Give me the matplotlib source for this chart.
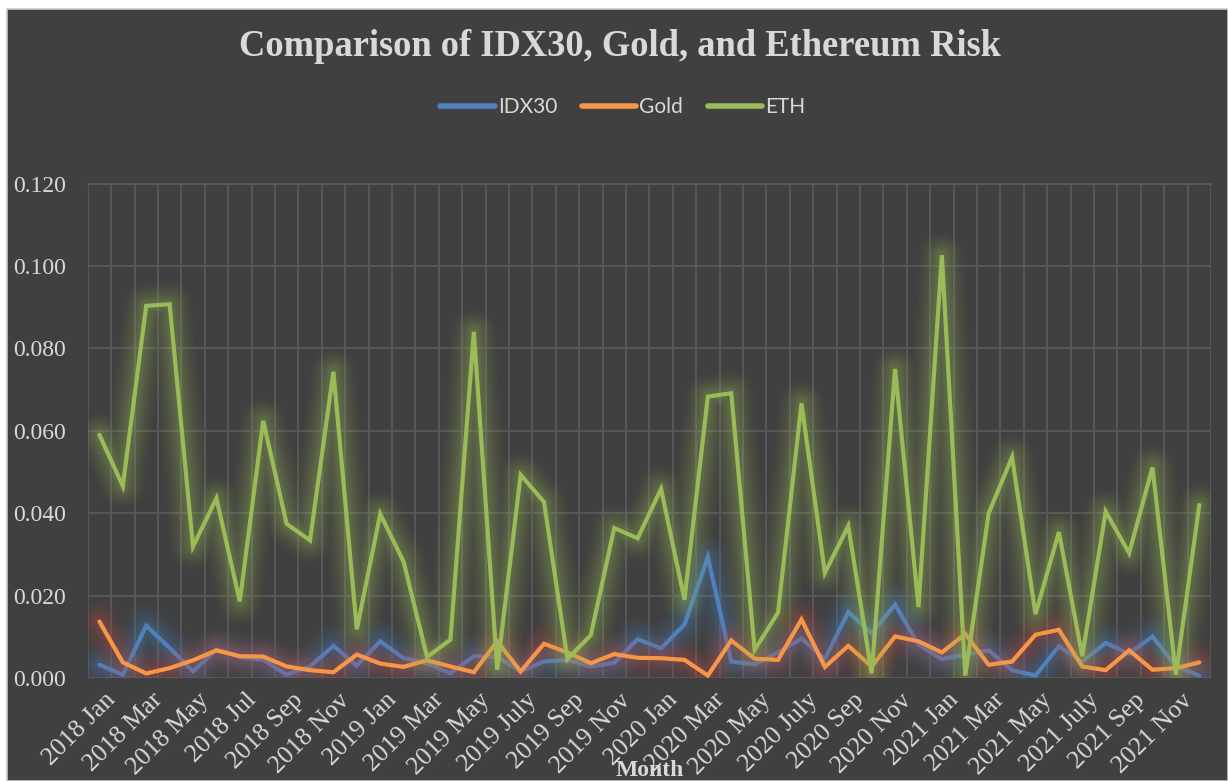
import matplotlib
matplotlib.use("Agg")
import matplotlib.pyplot as plt
import matplotlib.patheffects as pe
from matplotlib.patches import Rectangle
from matplotlib.transforms import ScaledTranslation
import numpy as np

years = [2018, 2019, 2020, 2021]
month_names_2018 = ["Jan", "Feb", "Mar", "Apr", "May", "Jun", "Jul", "Aug", "Sep", "Oct", "Nov", "Dec"]
month_names_other = ["Jan", "Feb", "Mar", "Apr", "May", "Jun", "July", "Aug", "Sep", "Oct", "Nov", "Dec"]
months = [f"{y} {m}" for y in years for m in (month_names_2018 if y == 2018 else month_names_other)]

idx30 = [0.0032, 0.0008, 0.0127, 0.0073, 0.0016, 0.0069, 0.0051, 0.0044, 0.0008, 0.0028,
         0.0078, 0.0030, 0.0089, 0.0048, 0.0036, 0.0011, 0.0053, 0.0051, 0.0016, 0.0040,
         0.0044, 0.0028, 0.0037, 0.0094, 0.0072, 0.0130, 0.0293, 0.0040, 0.0033, 0.0062,
         0.0096, 0.0046, 0.0160, 0.0109, 0.0178, 0.0081, 0.0046, 0.0057, 0.0067, 0.0019,
         0.0006, 0.0077, 0.0040, 0.0085, 0.0059, 0.0101, 0.0028, 0.0006]
gold = [0.0137, 0.0038, 0.0011, 0.0024, 0.0043, 0.0067, 0.0053, 0.0052, 0.0028, 0.0019,
        0.0014, 0.0057, 0.0035, 0.0027, 0.0043, 0.0028, 0.0014, 0.0089, 0.0016, 0.0083,
        0.0062, 0.0036, 0.0058, 0.0049, 0.0048, 0.0044, 0.0006, 0.0091, 0.0047, 0.0044,
        0.0142, 0.0027, 0.0078, 0.0028, 0.0101, 0.0089, 0.0062, 0.0107, 0.0032, 0.0040,
        0.0105, 0.0117, 0.0028, 0.0019, 0.0067, 0.0020, 0.0024, 0.0038]
eth = [0.0590, 0.0466, 0.0903, 0.0907, 0.0319, 0.0436, 0.0186, 0.0624, 0.0374, 0.0334,
       0.0743, 0.0118, 0.0398, 0.0282, 0.0051, 0.0093, 0.0840, 0.0020, 0.0493, 0.0427,
       0.0046, 0.0104, 0.0364, 0.0339, 0.0459, 0.0190, 0.0683, 0.0691, 0.0068, 0.0159,
       0.0667, 0.0255, 0.0369, 0.0011, 0.0750, 0.0172, 0.1026, 0.0006, 0.0400, 0.0536,
       0.0155, 0.0354, 0.0053, 0.0404, 0.0303, 0.0511, 0.0008, 0.0420]

series_names = ["IDX30", "Gold", "ETH"]
series_values = [idx30, gold, eth]
line_colors = ["#4F81BD", "#F79646", "#9BBB59"]
glow_colors = ["#4F81BD", "#C0504D", "#9BBB59"]

BG = "#404040"
TXT = "#D9D9D9"
GRID = "#595959"
W, H = 1228, 781

fig = plt.figure(figsize=(W / 100, H / 100), dpi=100, facecolor="white")
bgrect = Rectangle((7 / W, 0), 1 - 7 / W, 1 - 9 / H, transform=fig.transFigure,
                   facecolor=BG, edgecolor="#C8C8C8", linewidth=1.2, zorder=-10)
fig.add_artist(bgrect)

ax = fig.add_axes([87.7 / W, 1 - 678 / H, (1211 - 87.7) / W, (678 - 183.5) / H])
ax.set_zorder(1)
ax.set_facecolor(BG)
x = np.arange(len(months))

glow_layers = ((32, 0.035), (28, 0.04), (24, 0.045), (20, 0.055), (16, 0.065), (12, 0.08), (8, 0.10))
for name, vals, lc, gc in zip(series_names, series_values, line_colors, glow_colors):
    effects = [pe.Stroke(linewidth=w, foreground=gc, alpha=a, joinstyle="round", capstyle="round")
               for w, a in glow_layers]
    effects.append(pe.Normal())
    ax.plot(x, vals, color=lc, linewidth=3.0, label=name, path_effects=effects,
            solid_joinstyle="miter", solid_capstyle="round", zorder=3)

ax.set_xlim(-0.5, len(months) - 0.5)
ax.set_ylim(0, 0.12)
ax.set_yticks(np.arange(0, 0.1201, 0.02))
ax.set_yticklabels([f"{v:.3f}" for v in np.arange(0, 0.1201, 0.02)])
ax.set_xticks(x[::2])
ax.set_xticklabels(months[::2])
ax.set_xticks(np.arange(-0.5, len(months), 1.0), minor=True)
ax.grid(True, which="major", axis="y", color=GRID, linewidth=1.3, zorder=0)
ax.grid(True, which="minor", axis="x", color=GRID, linewidth=1.3, zorder=0)
ax.grid(False, which="major", axis="x")
ax.set_axisbelow(True)
for s in ax.spines.values():
    s.set_visible(False)
ax.spines["top"].set_visible(True)
ax.spines["top"].set_color(GRID)
ax.spines["top"].set_linewidth(1.3)

ax.tick_params(axis="both", which="both", length=0)
ax.tick_params(axis="y", pad=54, labelsize=17, labelcolor=TXT)
ax.tick_params(axis="x", pad=8, labelsize=18.5, labelcolor=TXT)
for lab in ax.get_yticklabels():
    lab.set_fontfamily("Liberation Serif")
    lab.set_horizontalalignment("left")
shift = ScaledTranslation(5 / 100, 0, fig.dpi_scale_trans)
for lab in ax.get_xticklabels():
    lab.set_fontfamily("Liberation Serif")
    lab.set_rotation(45)
    lab.set_horizontalalignment("right")
    lab.set_verticalalignment("top")
    lab.set_rotation_mode("anchor")
    lab.set_transform(lab.get_transform() + shift)

fig.text(620 / W, 1 - 47 / H, "Comparison of IDX30, Gold, and Ethereum Risk", ha="center", va="center",
         fontsize=26.3, fontweight="bold", family="Liberation Serif", color=TXT)
fig.text(650 / W, 1 - 770 / H, "Month", ha="center", va="center", fontsize=17,
         fontweight="bold", family="Liberation Serif", color=TXT, zorder=10)

handles, labels = ax.get_legend_handles_labels()
leg = fig.legend(handles, labels, loc="center", bbox_to_anchor=(623 / W, 1 - 107 / H), ncol=3,
                 frameon=False, handlelength=2.6, handletextpad=0.15, columnspacing=1.2,
                 prop={"family": "Lato", "size": 15})
for t in leg.get_texts():
    t.set_color(TXT)
for lh in leg.legend_handles:
    lh.set_path_effects([])
    lh.set_linewidth(4)

fig.savefig("out.png", dpi=100, facecolor=fig.get_facecolor())
